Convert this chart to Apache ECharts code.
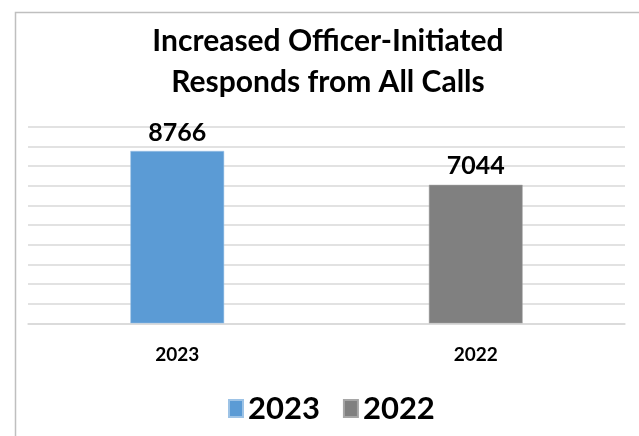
<!DOCTYPE html>
<html>
<head>
<meta charset="utf-8">
<script src="https://cdn.jsdelivr.net/npm/echarts@6/dist/echarts.min.js"></script>
<style>
html,body{margin:0;padding:0;background:#fff;}
#chart{width:639px;height:436px;}
</style>
</head>
<body>
<div id="chart"></div>
<script>
const titleText = 'Increased Officer-Initiated\nResponds from All Calls';
const categories = ['2023', '2022'];
const seriesNames = ['2023', '2022'];
const values2023 = [8766, '-'];
const values2022 = ['-', 7044];
const colors = ['#5B9BD5', '#808080'];
const yMin = 0, yMax = 10000, yInterval = 1000;

const chart = echarts.init(document.getElementById('chart'));
const labelStyle = {
  show: true, position: 'top', distance: 6,
  color: '#000', fontFamily: 'Lato', fontWeight: 'bold', fontSize: 25
};
chart.setOption({
  animation: false,
  backgroundColor: '#fff',
  title: {
    text: titleText,
    left: 323, top: 16, textAlign: 'center',
    textStyle: { fontFamily: 'Lato', fontWeight: 'bold', fontSize: 30, lineHeight: 41, color: '#000' }
  },
  graphic: [{
    type: 'rect', left: 13, top: 10, z: -1,
    shape: { width: 700, height: 500 },
    style: { fill: 'none', stroke: '#bfbfbf', lineWidth: 1.5 }
  }],
  legend: {
    bottom: 7, left: 223,
    itemWidth: 14, itemHeight: 17, itemGap: 23,
    icon: 'rect',
    textStyle: { fontFamily: 'Lato', fontWeight: 'bold', fontSize: 31, color: '#000' },
    data: seriesNames
  },
  grid: { left: 28, right: 14, top: 126.7, bottom: 112.7, containLabel: false },
  xAxis: {
    type: 'category', data: categories,
    axisLine: { show: true, lineStyle: { color: '#d9d9d9', width: 1.5 } },
    axisTick: { show: false },
    axisLabel: { margin: 22, color: '#000', fontFamily: 'Lato', fontWeight: 'bold', fontSize: 19 }
  },
  yAxis: {
    type: 'value', min: yMin, max: yMax, interval: yInterval,
    axisLabel: { show: false }, axisLine: { show: false }, axisTick: { show: false },
    splitLine: { lineStyle: { color: '#d9d9d9', width: 1.5 } }
  },
  series: [
    { name: seriesNames[0], type: 'bar', stack: 's', data: values2023, barWidth: '31.4%',
      itemStyle: { color: colors[0], borderColor: '#9dc3e6', borderWidth: 0.5 }, label: labelStyle },
    { name: seriesNames[1], type: 'bar', stack: 's', data: values2022, barWidth: '31.4%',
      itemStyle: { color: colors[1], borderColor: '#a6a6a6', borderWidth: 0.5 }, label: labelStyle }
  ]
});
</script>
</body>
</html>
